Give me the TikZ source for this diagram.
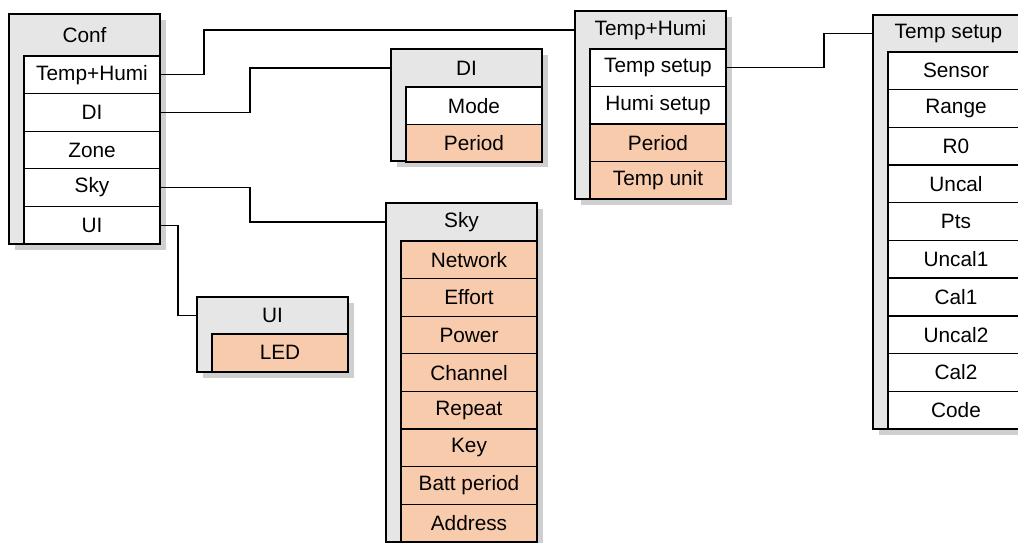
\documentclass[tikz,border=0pt]{standalone}
\usepackage{fontspec}
\setmainfont{Liberation Sans}
\usepackage{tikz}
\usetikzlibrary{shadows}
\definecolor{panelgray}{HTML}{E6E6E6}
\definecolor{shadowgray}{HTML}{CFCFCF}
\definecolor{peach}{HTML}{F8CBAD}
\tikzset{
  frame/.style={draw,line width=1.3pt,fill=panelgray,anchor=north west,minimum width=151,
    inner sep=0pt,outer sep=0pt,
    general shadow={fill=shadowgray,shadow xshift=6pt,shadow yshift=-6pt}},
  title/.style={anchor=north,minimum width=151,inner sep=0pt,outer sep=0pt},
  row/.style={draw,line width=1.3pt,anchor=north west,minimum width=136,minimum height=37.6,
    inner sep=0pt,outer sep=0pt},
  link/.style={line width=1.3pt,black}
}

\begin{document}
\begin{tikzpicture}[x=1pt,y=-1pt,font=\fontsize{20.8}{24}\selectfont]
\useasboundingbox (0,0) rectangle (1018,543);
\clip (0,0) rectangle (1018,543);
% Conf
\node[frame,minimum height=230] (conf) at (9,14) {};
\node[title,minimum height=42] (conf-t) at (conf.north) {Conf};
\foreach \lab [count=\i] in {Temp+Humi,DI,Zone,Sky,UI}
  \node[row,fill=white] (conf-\i) at (24,{56+(\i-1)*37.6}) {\lab};
% DI
\node[frame,minimum height=112] (di) at (391,49) {};
\node[title,minimum height=38] (di-t) at (di.north) {DI};
\foreach \lab/\fl [count=\i] in {Mode/white,Period/peach}
  \node[row,fill=\fl] (di-\i) at (406,{87+(\i-1)*37.3}) {\lab};
% Temp+Humi
\node[frame,minimum height=188] (th) at (575,11) {};
\node[title,minimum height=38] (th-t) at (th.north) {Temp+Humi};
\foreach \lab/\fl [count=\i] in {Temp setup/white,Humi setup/white,Period/peach,Temp unit/peach}
  \node[row,fill=\fl] (th-\i) at (590,{49+(\i-1)*37.5}) {\lab};
% Temp setup
\node[frame,minimum height=414] (ts) at (873,15) {};
\node[title,minimum height=37] (ts-t) at (ts.north) {Temp setup};
\foreach \lab [count=\i] in {Sensor,Range,R0,Uncal,Pts,Uncal1,Cal1,Uncal2,Cal2,Code}
  \node[row,fill=white] (ts-\i) at (888,{52+(\i-1)*37.7}) {\lab};
% Sky
\node[frame,minimum height=339] (sky) at (386,203) {};
\node[title,minimum height=38] (sky-t) at (sky.north) {Sky};
\foreach \lab [count=\i] in {Network,Effort,Power,Channel,Repeat,Key,Batt period,Address}
  \node[row,fill=peach] (sky-\i) at (401,{241+(\i-1)*37.6}) {\lab};
% UI
\node[frame,minimum height=75] (ui) at (197,297) {};
\node[title,minimum height=37] (ui-t) at (ui.north) {UI};
\node[row,fill=peach] (ui-1) at (212,334) {LED};
% links
\draw[link] (conf-1.east) -- ++(44,0) |- (th-t.west);
\draw[link] (conf-2.east) -- ++(90,0) |- (di-t.west);
\draw[link] (conf-4.east) -- ++(90,0) |- (sky-t.west);
\draw[link] (conf-5.east) -- ++(18,0) |- (ui-t.west);
\draw[link] (th-1.east) -- ++(98,0) |- (ts-t.west);
\end{tikzpicture}
\end{document}
